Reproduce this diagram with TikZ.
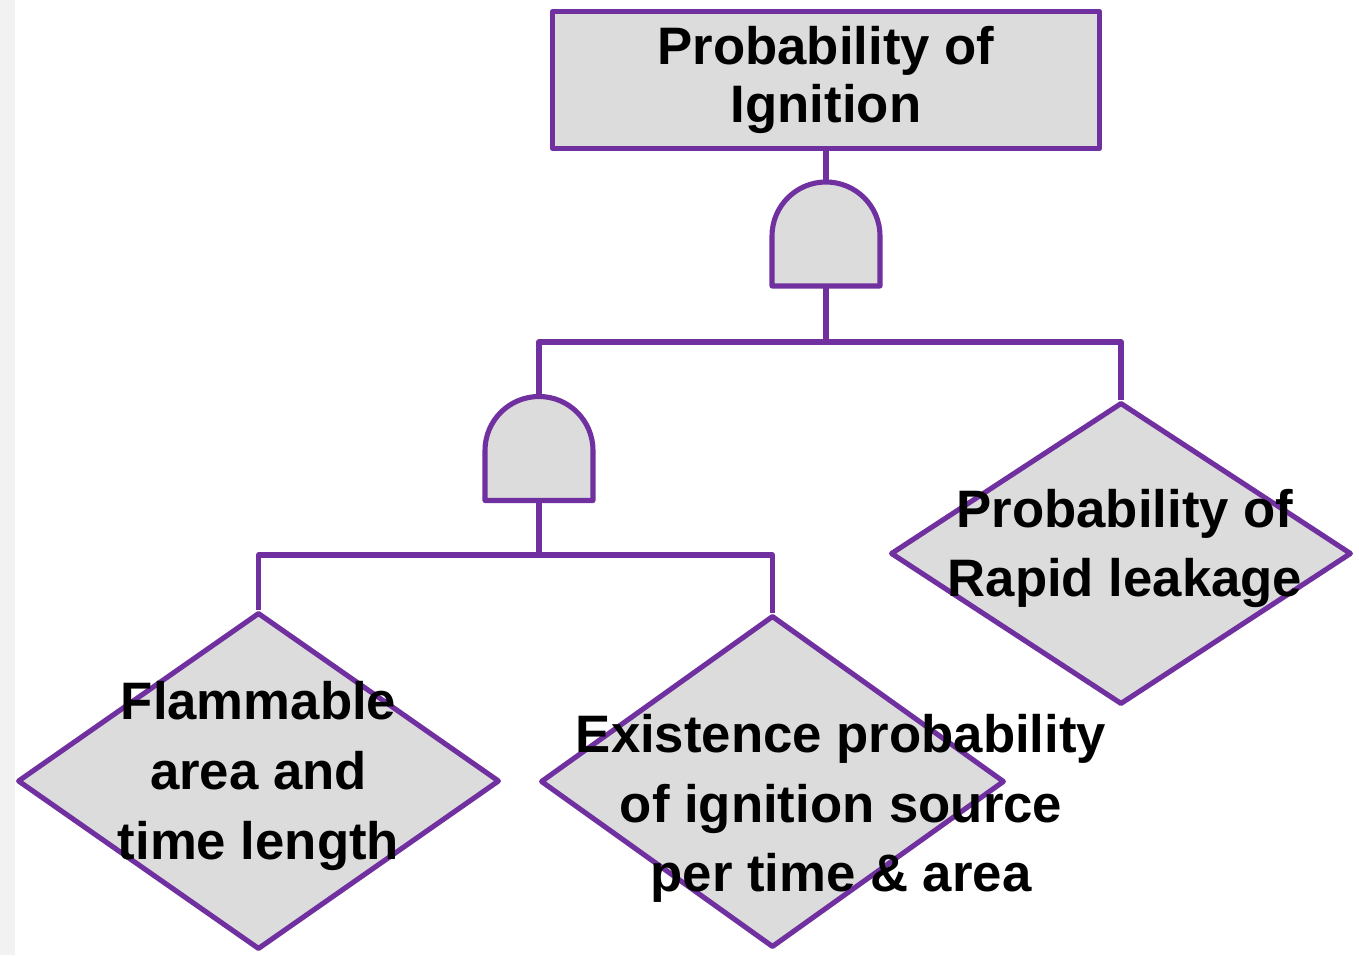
\documentclass[tikz,border=0pt]{standalone}
\usepackage{fontspec}
\setmainfont{Liberation Sans}
\usetikzlibrary{shapes.geometric}
\definecolor{ftpurple}{HTML}{7030A0}
\definecolor{ftgray}{HTML}{DCDCDC}
\definecolor{ftstrip}{HTML}{F2F2F2}
\tikzset{
  wire/.style={draw=ftpurple,line width=2.9pt,line join=round},
  box/.style={wire,fill=ftgray},
  topevent/.style={box,rectangle,minimum width=10.94cm,minimum height=2.74cm,inner sep=0pt,
    align=center,font=\bfseries\fontsize{30}{33}\selectfont},
  basicevent/.style={box,diamond,inner sep=0pt},
  evtext/.style={align=center,font=\bfseries\fontsize{30}{39.7}\selectfont},
  andgate/.pic={
    \draw[box] (-1.08,0) -- (-1.08,1) arc[start angle=180,end angle=0,radius=1.08] -- (1.08,0) -- cycle;
    \coordinate (-bot) at (0,0);
    \coordinate (-top) at (0,2.08);
  }
}
\begin{document}
\begin{tikzpicture}
    \useasboundingbox (0,0) rectangle (27.18,19.1);
    \fill[ftstrip] (0,0) rectangle (0.3,19.1);
    % top event and gates
    \node[topevent] (ignite) at (16.52,17.5) {Probability of\\Ignition};
    \pic (g1) at (16.52,13.38) {andgate};
    \pic (g2) at (10.78,9.09) {andgate};
    % basic events
    \node[basicevent,minimum width=9.64cm,minimum height=6.74cm] (flam) at (5.17,3.48) {};
    \node[basicevent,minimum width=9.28cm,minimum height=6.64cm] (exist) at (15.45,3.47) {};
    \node[basicevent,minimum width=9.22cm,minimum height=6.04cm] (leak) at (22.42,8.03) {};
    \node[evtext] (flamtext) at ([shift={(0,0.1)}]flam) {Flammable\\area and\\time length};
    \node[evtext] (existtext) at ([shift={(1.37,-0.54)}]exist) {Existence probability\\of ignition source\\per time \& area};
    \node[evtext] (leaktext) at ([shift={(0.08,0.1)}]leak) {Probability of\\Rapid leakage};
    % connectors
    \coordinate (j1) at (16.52,12.26);
    \coordinate (j2) at (10.78,8.0);
    \draw[wire] (ignite.south) -- (g1-top);
    \draw[wire] (g1-bot) -- (j1);
    \draw[wire] (g2-top) |- (j1) -| (leak.north);
    \draw[wire] (g2-bot) -- (j2);
    \draw[wire] (flam.north) |- (j2) -| (exist.north);
\end{tikzpicture}
\end{document}
